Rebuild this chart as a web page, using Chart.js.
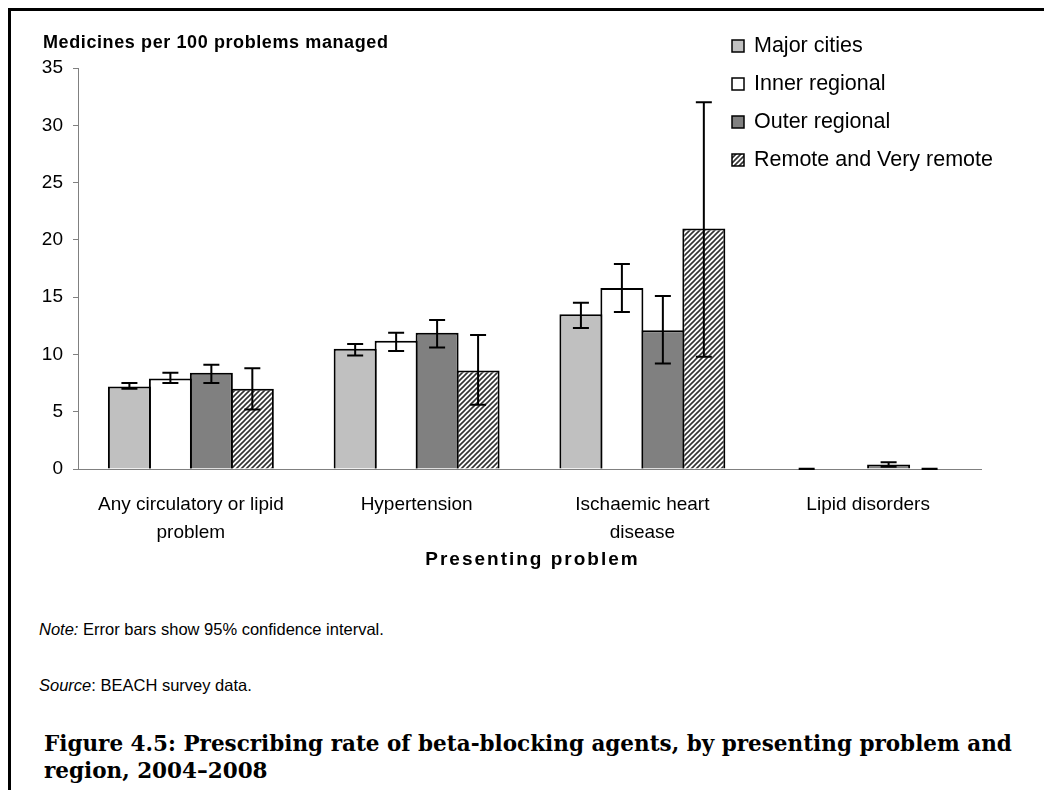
<!DOCTYPE html>
<html>
<head>
<meta charset="utf-8">
<title>Beta-blocking agents by region</title>
<script src="https://cdn.jsdelivr.net/npm/chart.js@4.4.0/dist/chart.umd.min.js"></script>
<style>
  body { margin: 0; background: #fff; }
  #page { position: relative; width: 1044px; height: 790px; overflow: hidden; background: #fff; }
  #frame { position: absolute; left: 8px; top: 8px; right: -10px; bottom: -10px;
           border-left: 3px solid #000; border-top: 3px solid #000; }
  #chartBox { position: absolute; left: 0; top: 0; width: 1044px; height: 575px; }
  .note { position: absolute; left: 39px; font: 16.5px/18px "Liberation Sans", Arial, sans-serif; color: #000; }
  .caption { position: absolute; left: 44px; top: 730px; width: 1000px; white-space: nowrap;
             font: bold 21.5px/27px "DejaVu Serif", serif; color: #000; }
</style>
</head>
<body>
<div id="page">
  <div id="frame"></div>
  <div id="chartBox"><canvas id="betaChart"></canvas></div>
  <div class="note" style="top:620px"><i>Note:</i> Error bars show 95% confidence interval.</div>
  <div class="note" style="top:676px"><i>Source</i>: BEACH survey data.</div>
  <div class="caption">Figure 4.5: Prescribing rate of beta-blocking agents, by presenting problem and<br>region, 2004–2008</div>
</div>
<script>
// ---- data: medicines per 100 problems managed, with 95% CI ----
const problems = [['Any circulatory or lipid', 'problem'], 'Hypertension', ['Ischaemic heart', 'disease'], 'Lipid disorders'];
const regions = ['Major cities', 'Inner regional', 'Outer regional', 'Remote and Very remote'];

const majorCities   = [7.2, 10.5, 13.5, 0];
const majorLow      = [7.0, 9.9, 12.3, 0];
const majorHigh     = [7.5, 10.9, 14.5, 0.02];

const innerRegional = [7.9, 11.2, 15.8, 0];
const innerLow      = [7.5, 10.3, 13.7, null];
const innerHigh     = [8.4, 11.9, 17.9, null];

const outerRegional = [8.4, 11.9, 12.1, 0.4];
const outerLow      = [7.5, 10.6, 9.2, 0.2];
const outerHigh     = [9.1, 13.0, 15.1, 0.6];

const remote        = [7.0, 8.6, 21.0, 0];
const remoteLow     = [5.2, 5.6, 9.8, 0];
const remoteHigh    = [8.8, 11.7, 32.0, 0.02];

const yMin = 0, yMax = 35, yStep = 5;

const yTitle = 'Medicines per 100 problems managed';
const xTitle = 'Presenting problem';

// diagonal hatch for the remote series
function makeHatch() {
    const c = document.createElement('canvas');
    c.width = 5; c.height = 5;
    const g = c.getContext('2d');
    g.fillStyle = '#fff';
    g.fillRect(0, 0, 5, 5);
    g.strokeStyle = '#333';
    g.lineWidth = 1.6;
    g.beginPath();
    g.moveTo(-1, 6); g.lineTo(6, -1);
    g.moveTo(-1, 1); g.lineTo(1, -1);
    g.moveTo(4, 6); g.lineTo(6, 4);
    g.stroke();
    return g.createPattern(c, 'repeat');
}
const hatch = makeHatch();

const FONT = '"Liberation Sans", Arial, sans-serif';

// error bars drawn from ciLow / ciHigh of each dataset
const errorBars = {
    id: 'errorBars',
    afterDatasetsDraw(chart) {
        const ctx = chart.ctx;
        const y = chart.scales.y;
        chart.data.datasets.forEach((ds, i) => {
            const meta = chart.getDatasetMeta(i);
            meta.data.forEach((bar, j) => {
                const lo = ds.ciLow[j], hi = ds.ciHigh[j];
                if (lo == null || hi == null) return;
                const y1 = y.getPixelForValue(lo), y2 = y.getPixelForValue(hi);
                ctx.save();
                ctx.strokeStyle = '#000';
                ctx.lineWidth = 2;
                ctx.beginPath();
                ctx.moveTo(bar.x, y1); ctx.lineTo(bar.x, y2);
                ctx.moveTo(bar.x - 8, y1); ctx.lineTo(bar.x + 8, y1);
                ctx.moveTo(bar.x - 8, y2); ctx.lineTo(bar.x + 8, y2);
                ctx.stroke();
                ctx.restore();
            });
        });
    }
};

// axis titles (spaced bold text) + legend box at the top right
const headings = {
    id: 'headings',
    afterDraw(chart) {
        const ctx = chart.ctx;
        const area = chart.chartArea;
        ctx.save();
        ctx.fillStyle = '#000';
        ctx.font = 'bold 18px ' + FONT;
        ctx.letterSpacing = '0.6px';
        ctx.textBaseline = 'alphabetic';
        ctx.textAlign = 'left';
        ctx.fillText(yTitle, 43, 48);

        ctx.font = 'bold 19px ' + FONT;
        ctx.letterSpacing = '2px';
        ctx.textAlign = 'center';
        ctx.textBaseline = 'middle';
        ctx.fillText(xTitle, (area.left + area.right) / 2 + 3, 560);
        ctx.letterSpacing = '0px';

        ctx.font = '21.5px ' + FONT;
        ctx.textAlign = 'left';
        chart.data.datasets.forEach((ds, i) => {
            const cy = 46 + i * 38;
            const bx = area.right - 249;
            ctx.fillStyle = ds.backgroundColor;
            ctx.fillRect(bx, cy - 6, 12, 12);
            ctx.strokeStyle = '#000';
            ctx.lineWidth = 1.5;
            ctx.strokeRect(bx, cy - 6, 12, 12);
            ctx.fillStyle = '#000';
            ctx.fillText(ds.label, bx + 22, cy);
        });
        ctx.restore();
    }
};

function series(label, data, low, high, fill) {
    return {
        label: label,
        data: data,
        ciLow: low,
        ciHigh: high,
        backgroundColor: fill,
        borderColor: '#000',
        borderWidth: 2,
        borderSkipped: 'start',
        barPercentage: 1.05,
        categoryPercentage: 0.726
    };
}

new Chart(document.getElementById('betaChart'), {
    type: 'bar',
    data: {
        labels: problems,
        datasets: [
            series(regions[0], majorCities, majorLow, majorHigh, '#c0c0c0'),
            series(regions[1], innerRegional, innerLow, innerHigh, '#ffffff'),
            series(regions[2], outerRegional, outerLow, outerHigh, '#808080'),
            series(regions[3], remote, remoteLow, remoteHigh, hatch)
        ]
    },
    options: {
        responsive: true,
        maintainAspectRatio: false,
        animation: false,
        layout: { padding: { top: 68, right: 63, bottom: 0, left: 0 } },
        plugins: {
            legend: { display: false },
            tooltip: { enabled: false }
        },
        scales: {
            x: {
                grid: { display: false },
                border: { display: true, color: '#808080', width: 1 },
                ticks: {
                    color: '#000',
                    padding: 14,
                    maxRotation: 0,
                    autoSkip: false,
                    font: { family: FONT, size: 19, lineHeight: 1.45 }
                },
                afterFit(scale) { scale.height = 106; }
            },
            y: {
                min: yMin,
                max: yMax,
                grid: { drawOnChartArea: false, drawTicks: true, tickLength: 5, color: '#808080' },
                border: { display: true, color: '#808080', width: 1 },
                ticks: {
                    stepSize: yStep,
                    color: '#000',
                    padding: 10,
                    font: { family: FONT, size: 19 }
                },
                afterFit(scale) { scale.width = 78; }
            }
        }
    },
    plugins: [errorBars, headings]
});
</script>
</body>
</html>
